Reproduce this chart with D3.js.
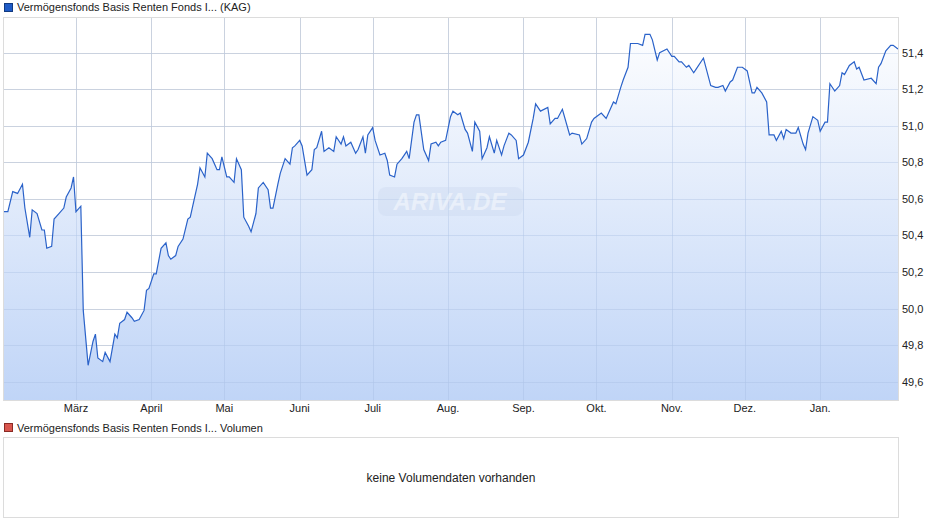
<!DOCTYPE html>
<html><head><meta charset="utf-8">
<script src="https://cdn.jsdelivr.net/npm/d3@7"></script>
<style>body{margin:0;background:#fff;}svg{font-family:"Liberation Sans",Arial,sans-serif;}</style>
</head><body><svg id="c" width="940" height="526"></svg>
<script>
const seriesName = "Vermögensfonds Basis Renten Fonds I... (KAG)";
const volumeName = "Vermögensfonds Basis Renten Fonds I... Volumen";
const noVolumeText = "keine Volumendaten vorhanden";
const startDate = "2023-01-30";
const endDate = "2024-02-02";
const monthTicks = ["2023-03-01","2023-04-01","2023-05-01","2023-06-01","2023-07-01","2023-08-01","2023-09-01","2023-10-01","2023-11-01","2023-12-01","2024-01-01"];
const monthLabels = ["März","April","Mai","Juni","Juli","Aug.","Sep.","Okt.","Nov.","Dez.","Jan."];
const yTicks = [49.6,49.8,50.0,50.2,50.4,50.6,50.8,51.0,51.2,51.4];
const days = [0,2,4,6,8,9,11,12,14,16,17,18,20,21,23,25,26,28,29,30,32,33,35,37,38,39,41,42,44,46,47,48,50,51,53,54,56,58,59,60,62,63,65,67,68,69,71,72,74,76,77,78,80,81,83,84,86,88,89,90,92,93,95,96,
98,99,101,102,104,105,107,109,110,111,113,114,116,118,119,120,122,123,125,127,128,129,131,132,134,136,137,139,140,141,143,145,146,148,149,150,152,153,155,157,158,159,161,162,164,166,167,169,170,171,173,175,176,178,179,180,182,184,185,187,188,190,191,193,194,196,197,199,200,202,203,205,206,208,209,211,212,
214,216,218,219,221,224,225,227,228,230,233,234,237,238,240,242,243,246,248,251,252,254,255,257,258,261,263,264,266,267,269,270,273,275,276,278,279,281,282,284,285,287,288,291,293,294,296,297,299,300,302,304,306,308,309,310,312,314,315,317,318,320,321,322,324,326,327,329,330,331,333,335,336,338,339,340,342,344,345,346,348,350,351,352,354,357,359,360,361,363,365,366,368];
const values = [50.53,50.53,50.64,50.63,50.68,50.55,50.39,50.54,50.52,50.43,50.43,50.33,50.34,50.49,50.52,50.55,50.61,50.66,50.72,50.53,50.56,49.99,49.69,49.82,49.86,49.73,49.71,49.76,49.71,49.86,49.84,49.92,49.94,49.98,49.95,49.93,49.94,49.99,50.10,50.11,50.19,50.19,50.33,50.36,50.29,50.27,50.29,50.34,50.38,50.49,50.50,50.56,50.68,50.77,50.72,50.85,50.82,50.76,50.76,50.83,50.72,50.72,50.69,50.82,
50.76,50.50,50.45,50.42,50.52,50.66,50.69,50.65,50.55,50.55,50.68,50.74,50.82,50.79,50.88,50.89,50.92,50.89,50.73,50.76,50.87,50.88,50.97,50.86,50.88,50.86,50.94,50.90,50.94,50.89,50.91,50.85,50.87,50.94,50.85,50.95,50.99,50.92,50.84,50.85,50.81,50.73,50.72,50.79,50.82,50.86,50.82,51.02,51.06,51.06,50.87,50.81,50.90,50.91,50.89,50.91,50.92,51.05,51.08,51.06,51.07,50.98,50.96,50.86,51.02,50.97,50.82,50.88,50.94,50.85,50.92,50.84,50.89,50.96,50.95,50.92,50.82,
50.84,50.91,51.04,51.12,51.08,51.10,51.01,51.04,51.04,51.09,50.95,50.96,50.95,50.90,50.93,51.02,51.04,51.07,51.04,51.13,51.12,51.21,51.25,51.32,51.45,51.45,51.44,51.50,51.50,51.47,51.36,51.40,51.42,51.38,51.38,51.35,51.35,51.32,51.33,51.29,51.31,51.35,51.37,51.22,51.21,51.21,51.22,51.19,51.24,51.25,51.32,51.32,51.30,51.18,51.18,51.21,51.18,51.13,50.95,50.95,50.92,50.97,50.93,50.98,50.96,50.96,50.99,50.90,50.87,50.96,51.05,51.03,50.97,51.02,51.02,51.23,51.19,51.22,51.29,51.28,51.33,51.35,51.31,51.32,51.25,51.26,51.23,51.32,51.34,51.41,51.44,51.44,51.42];

const svg = d3.select("#c");
const L=3,R=898,T=17,B=400;
const t0 = d3.isoParse(startDate+"T00:00:00Z");
const x = d3.scaleUtc().domain([t0, d3.isoParse(endDate+"T00:00:00Z")]).range([L,R]);
const y = d3.scaleLinear().domain([49.5,51.595]).range([B,T]);
const data = days.map((d,i)=>({date:d3.utcDay.offset(t0,d), v:values[i]}));

const defs = svg.append("defs");
const g = defs.append("linearGradient").attr("id","fill").attr("x1",0).attr("x2",0).attr("y1",0).attr("y2",1)
  .attr("gradientUnits","userSpaceOnUse").attr("y1",T).attr("y2",B).attr("x1",0).attr("x2",0);
g.append("stop").attr("offset",0).attr("stop-color","#ffffff");
g.append("stop").attr("offset",1).attr("stop-color","#b9d0f6");

// legend 1
svg.append("rect").attr("x",4.5).attr("y",3.5).attr("width",8).attr("height",8).attr("fill","#1f5bc6").attr("stroke","#123a80");
svg.append("text").attr("x",17).attr("y",11).attr("font-size",11).attr("fill","#222").text(seriesName);

// grid
svg.append("g").selectAll("line").data(yTicks).join("line")
  .attr("x1",L).attr("x2",R).attr("y1",d=>Math.round(y(d))+0.5).attr("y2",d=>Math.round(y(d))+0.5).attr("stroke","#dcdcdc");
svg.append("g").selectAll("line").data(monthTicks).join("line")
  .attr("x1",d=>Math.round(x(d3.isoParse(d+"T00:00:00Z")))+0.5).attr("x2",d=>Math.round(x(d3.isoParse(d+"T00:00:00Z")))+0.5)
  .attr("y1",T).attr("y2",B).attr("stroke","#dcdcdc");

// area
svg.append("path").datum(data).attr("fill","url(#fill)").attr("fill-opacity",0.9)
  .attr("d",d3.area().x(d=>x(d.date)).y0(B).y1(d=>y(d.v)));
// grid over fill faintly
svg.append("g").selectAll("line").data(monthTicks).join("line")
  .attr("x1",d=>Math.round(x(d3.isoParse(d+"T00:00:00Z")))+0.5).attr("x2",d=>Math.round(x(d3.isoParse(d+"T00:00:00Z")))+0.5)
  .attr("y1",T).attr("y2",B).attr("stroke","#a9bfe6").attr("stroke-opacity",0.35);
svg.append("g").selectAll("line").data(yTicks).join("line")
  .attr("x1",L).attr("x2",R).attr("y1",d=>Math.round(y(d))+0.5).attr("y2",d=>Math.round(y(d))+0.5).attr("stroke","#a9bfe6").attr("stroke-opacity",0.35);

// watermark
svg.append("rect").attr("x",378).attr("y",187).attr("width",145).attr("height",29).attr("rx",8).attr("fill","#c8d6ee").attr("opacity",0.35);
svg.append("text").attr("x",450).attr("y",210).attr("text-anchor","middle").attr("font-size",24).attr("font-style","italic").attr("font-weight","bold")
  .attr("fill","#ffffff").attr("opacity",0.45).text("ARIVA.DE");

// line
svg.append("path").datum(data).attr("fill","none").attr("stroke","#2a62c9").attr("stroke-width",1.2)
  .attr("d",d3.line().x(d=>x(d.date)).y(d=>y(d.v)));

// frame
svg.append("rect").attr("x",L+0.5).attr("y",T+0.5).attr("width",R-L).attr("height",B-T).attr("fill","none").attr("stroke","#dcdcdc");

// axes labels
svg.append("g").selectAll("text").data(yTicks).join("text")
  .attr("x",902).attr("y",d=>y(d)+4).attr("font-size",11).attr("fill","#222").text(d=>d3.format(".1f")(d).replace(".",","));
svg.append("g").selectAll("text").data(monthTicks).join("text")
  .attr("x",d=>x(d3.isoParse(d+"T00:00:00Z"))).attr("y",412).attr("text-anchor","middle").attr("font-size",11).attr("fill","#222")
  .text((d,i)=>monthLabels[i]);

// volume panel
svg.append("rect").attr("x",4.5).attr("y",423.5).attr("width",8).attr("height",8).attr("fill","#d9564e").attr("stroke","#8a2a24");
svg.append("text").attr("x",17).attr("y",432).attr("font-size",11).attr("fill","#222").text(volumeName);
svg.append("rect").attr("x",3.5).attr("y",437.5).attr("width",R-L).attr("height",80).attr("fill","none").attr("stroke","#dcdcdc");
svg.append("text").attr("x",451).attr("y",482).attr("text-anchor","middle").attr("font-size",12).attr("fill","#222").text(noVolumeText);
</script></body></html>
